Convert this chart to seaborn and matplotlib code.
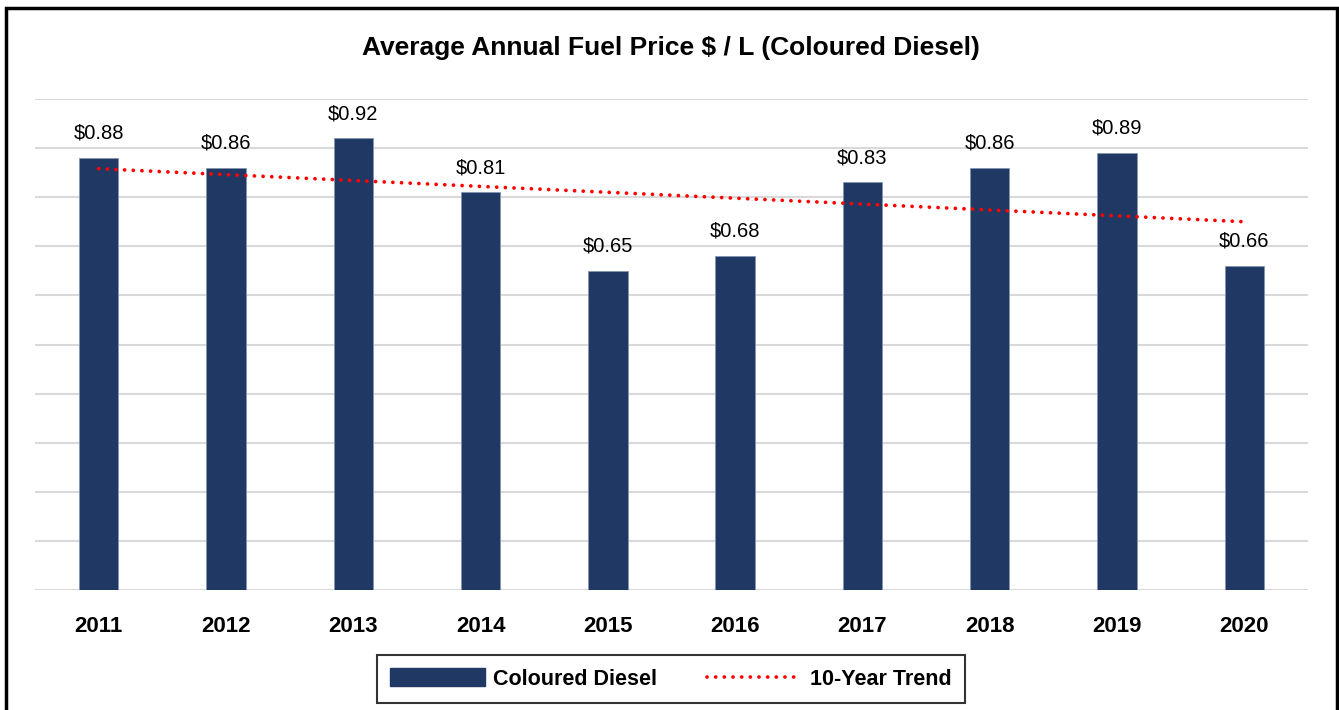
import numpy as np
import pandas as pd
import matplotlib
matplotlib.use("Agg")
import matplotlib.pyplot as plt
import matplotlib.font_manager as fm
from matplotlib.patches import Rectangle, Patch
from matplotlib.lines import Line2D
import seaborn as sns

years = ["2011", "2012", "2013", "2014", "2015", "2016", "2017", "2018", "2019", "2020"]
prices = [0.88, 0.86, 0.92, 0.81, 0.65, 0.68, 0.83, 0.86, 0.89, 0.66]
title = "Average Annual Fuel Price $ / L (Coloured Diesel)"
series_name = "Coloured Diesel"
trend_name = "10-Year Trend"

sns.set_style("white")
names = {f.name for f in fm.fontManager.ttflist}
fam = "Liberation Sans Narrow" if "Liberation Sans Narrow" in names else "Liberation Sans"
plt.rcParams["font.family"] = [fam, "DejaVu Sans"]
plt.rcParams["text.color"] = "#000000"
plt.rcParams["xtick.color"] = "#000000"

df = pd.DataFrame({"year": years, "price": prices})

fig = plt.figure(figsize=(13.39, 7.10), dpi=100)
ax = fig.add_axes([35/1339, 120/710, (1308-35)/1339, (590-99)/710])

bar_color = "#203864"
sns.barplot(data=df, x="year", y="price", color=bar_color, width=0.31,
            edgecolor="#8496b0", linewidth=0.6, ax=ax, saturation=1)

dots = (0, (0.01, 2.3))
xs = np.arange(len(years))
coef = np.polyfit(xs, prices, 1)
trend = np.polyval(coef, xs)
ax.plot(xs, trend, color="#ff0000", linestyle=dots, linewidth=2.7,
        dash_capstyle="round", zorder=3)

ax.set_ylim(0, 1.0)
ax.set_xlim(-0.5, len(years) - 0.5)
ax.set_yticks(np.arange(0, 1.01, 0.1))
ax.yaxis.grid(True, color="#d9d9d9", linewidth=1.5)
ax.set_axisbelow(True)
ax.tick_params(axis="y", left=False, labelleft=False)
ax.tick_params(axis="x", bottom=False, pad=15)
for lab in ax.get_xticklabels():
    lab.set_fontsize(16)
    lab.set_fontweight("bold")
    lab.set_color("#000000")
ax.set_xlabel("")
ax.set_ylabel("")
for s in ax.spines.values():
    s.set_visible(False)

ax.bar_label(ax.containers[0], labels=[f"${v:.2f}" for v in prices],
             padding=11, fontsize=14.5, color="#000000")

fig.text(671/1339, 1 - 48/710, title, ha="center", va="center",
         fontsize=19, fontweight="bold", color="#000000")

handles = [Patch(facecolor=bar_color, edgecolor=bar_color),
           Line2D([0], [0], color="#ff0000", linestyle=dots,
                  linewidth=2.7, dash_capstyle="round")]
leg = fig.legend(handles, [series_name, trend_name], loc="center",
                 bbox_to_anchor=(671/1339, 1 - 679/710), ncol=2,
                 frameon=True, fancybox=False, edgecolor="#000000",
                 prop={"family": [fam, "DejaVu Sans"], "weight": "bold", "size": 15.5},
                 handlelength=4.4, handleheight=0.9, columnspacing=2.3,
                 borderpad=0.6, handletextpad=0.4, borderaxespad=0)
leg.get_frame().set_linewidth(1.5)
leg.get_frame().set_edgecolor("#000000")
for t in leg.get_texts():
    t.set_color("#000000")

fig.patches.append(Rectangle((6/1339, -0.02), (1337-6)/1339, 1 - 8/710 + 0.02,
                             transform=fig.transFigure, fill=False,
                             edgecolor="#000000", linewidth=2.5))

fig.savefig("out.png", dpi=100)
